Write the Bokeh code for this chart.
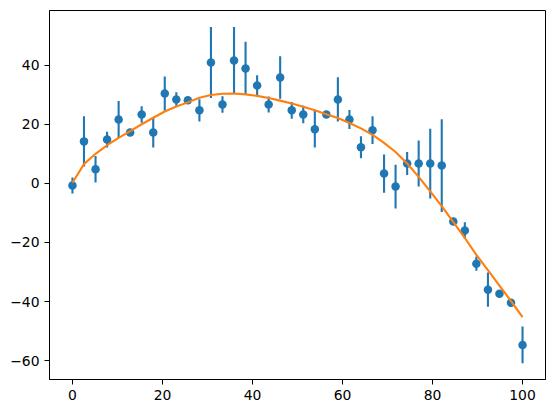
from bokeh.plotting import figure
from bokeh.models import ColumnDataSource, FixedTicker, Range1d
from bokeh.embed import file_html
from bokeh.resources import INLINE

x_vals = [0.00, 2.56, 5.13, 7.69, 10.26, 12.82, 15.38, 17.95, 20.51, 23.08,
          25.64, 28.21, 30.77, 33.33, 35.90, 38.46, 41.03, 43.59, 46.15, 48.72,
          51.28, 53.85, 56.41, 58.97, 61.54, 64.10, 66.67, 69.23, 71.79, 74.36,
          76.92, 79.49, 82.05, 84.62, 87.18, 89.74, 92.31, 94.87, 97.44, 100.00]
y_vals = [-0.7, 14.2, 4.75, 14.8, 21.6, 17.2, 23.3, 17.2, 30.4, 28.4,
          28.1, 24.7, 40.9, 26.7, 41.6, 38.9, 33.1, 26.7, 35.8, 24.7,
          23.3, 18.3, 23.3, 28.4, 21.6, 12.2, 18.0, 3.3, -1.1, 6.7,
          6.7, 6.7, 6.0, -12.9, -16.0, -27.2, -36.0, -37.4, -40.4, -54.7]
y_err = [2.7, 8.5, 4.5, 2.7, 6.3, 1.0, 2.8, 5.1, 5.8, 2.4,
         1.0, 3.8, 12.0, 2.8, 11.3, 9.0, 3.5, 2.7, 7.2, 2.8,
         3.0, 6.2, 1.0, 7.5, 3.2, 3.7, 4.7, 6.5, 7.4, 3.9,
         7.8, 11.8, 15.7, 1.0, 2.8, 2.4, 5.8, 1.0, 1.0, 6.2]
fit_vals = [0.2, 6.5, 10.0, 12.9, 15.4, 17.7, 20.0, 22.2, 24.3, 26.0,
            27.4, 29.0, 29.9, 30.3, 30.4, 30.1, 29.6, 28.9, 28.0, 27.0,
            25.9, 24.7, 23.4, 22.1, 20.4, 18.6, 16.4, 13.7, 10.6, 6.7,
            2.2, -2.7, -7.7, -13.1, -18.5, -24.2, -29.4, -34.6, -39.9, -45.3]

x_ticks = [0, 20, 40, 60, 80, 100]
x_tick_labels = ["0", "20", "40", "60", "80", "100"]
y_ticks = [-60, -40, -20, 0, 20, 40]
y_tick_labels = ["\u221260", "\u221240", "\u221220", "0", "20", "40"]

lower = [y - e for y, e in zip(y_vals, y_err)]
upper = [y + e for y, e in zip(y_vals, y_err)]
src = ColumnDataSource(dict(x=x_vals, y=y_vals, lo=lower, hi=upper, fit=fit_vals))

p = figure(width=554, height=413, output_backend="svg", toolbar_location=None,
           x_range=Range1d(-5.1, 105.1), y_range=Range1d(-66.4, 58.5),
           min_border_left=49, min_border_right=9, min_border_top=10, min_border_bottom=34)
p.background_fill_color = "white"
p.border_fill_color = "white"
p.outline_line_color = "black"
p.outline_line_width = 1
p.grid.visible = False

blue = "#1f77b4"
orange = "#ff7f0e"
p.segment(x0="x", y0="lo", x1="x", y1="hi", source=src, line_color=blue, line_width=2.1)
p.scatter(x="x", y="y", source=src, size=8.5, fill_color=blue, line_color=blue, line_width=0)
p.line(x="x", y="fit", source=src, line_color=orange, line_width=2.1)

for ax, ticks, labels in ((p.xaxis[0], x_ticks, x_tick_labels), (p.yaxis[0], y_ticks, y_tick_labels)):
    ax.ticker = FixedTicker(ticks=ticks)
    ax.major_label_overrides = {t: l for t, l in zip(ticks, labels)}
    ax.minor_tick_line_color = None
    ax.major_tick_in = 0
    ax.major_tick_out = 5
    ax.major_tick_line_color = "black"
    ax.axis_line_color = "black"
    ax.major_label_text_font = "DejaVu Sans"
    ax.major_label_text_font_size = "13.9px"
    ax.major_label_text_color = "black"
    ax.major_label_standoff = 5

open("out.html", "w").write(file_html(p, INLINE))
